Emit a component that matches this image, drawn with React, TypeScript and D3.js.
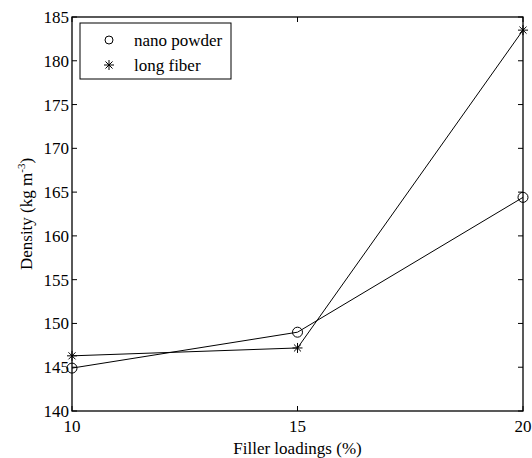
import React from "react";
import * as d3 from "d3";

const loadings = [10, 15, 20];
const nanoPowder = [144.9, 149.0, 164.4];
const longFiber = [146.3, 147.2, 183.5];
const xTicks = [10, 15, 20];
const yTicks = [140, 145, 150, 155, 160, 165, 170, 175, 180, 185];

export default function App() {
  const W = 532, H = 458;
  const m = { l: 72, r: 9, t: 17, b: 47 };
  const x = d3.scaleLinear().domain([10, 20]).range([m.l, W - m.r]);
  const y = d3.scaleLinear().domain([140, 185]).range([H - m.b, m.t]);
  const line = d3.line<number>().x((_, i) => x(loadings[i])).y((d) => y(d));
  const font = "'Liberation Serif', 'Times New Roman', serif";
  const fs = 17;
  const x0 = x(10), x1 = x(20), y0 = y(140), y1 = y(185);
  const star = (cx: number, cy: number, k: string) => {
    const s = 5;
    const d = s * 0.707;
    return (
      <g key={k} stroke="#000" strokeWidth={1}>
        <line x1={cx - s} y1={cy} x2={cx + s} y2={cy} />
        <line x1={cx} y1={cy - s} x2={cx} y2={cy + s} />
        <line x1={cx - d} y1={cy - d} x2={cx + d} y2={cy + d} />
        <line x1={cx - d} y1={cy + d} x2={cx + d} y2={cy - d} />
      </g>
    );
  };
  return (
    <svg width={W} height={H} style={{ position: "absolute", left: 0, top: 0 }} fontFamily={font}>
      <rect x={0} y={0} width={W} height={H} fill="#fff" />
      <rect x={x0} y={y1} width={x1 - x0} height={y0 - y1} fill="none" stroke="#000" strokeWidth={1.3} />
      {xTicks.map((t) => (
        <g key={"xt" + t}>
          <line x1={x(t)} y1={y0} x2={x(t)} y2={y0 - 5} stroke="#000" />
          <line x1={x(t)} y1={y1} x2={x(t)} y2={y1 + 5} stroke="#000" />
          <text x={x(t)} y={y0 + 21} textAnchor="middle" fontSize={fs}>{t}</text>
        </g>
      ))}
      {yTicks.map((t) => (
        <g key={"yt" + t}>
          <line x1={x0} y1={y(t)} x2={x0 + 5} y2={y(t)} stroke="#000" />
          <line x1={x1} y1={y(t)} x2={x1 - 5} y2={y(t)} stroke="#000" />
          <text x={x0 - 3} y={y(t) + 6} textAnchor="end" fontSize={fs}>{t}</text>
        </g>
      ))}
      <text x={(x0 + x1) / 2} y={H - 4} textAnchor="middle" fontSize={fs}>Filler loadings (%)</text>
      <text transform={`translate(32,${(y0 + y1) / 2}) rotate(-90)`} textAnchor="middle" fontSize={fs}>
        Density (kg m<tspan dy={-7} fontSize={11}>-3</tspan><tspan dy={7}>)</tspan>
      </text>
      <path d={line(nanoPowder) || ""} fill="none" stroke="#000" strokeWidth={1} />
      <path d={line(longFiber) || ""} fill="none" stroke="#000" strokeWidth={1} />
      {nanoPowder.map((v, i) => (
        <circle key={"c" + i} cx={x(loadings[i])} cy={y(v)} r={5} fill="none" stroke="#000" strokeWidth={1} />
      ))}
      {longFiber.map((v, i) => star(x(loadings[i]), y(v), "s" + i))}
      <rect x={80} y={23} width={151} height={56} fill="#fff" stroke="#000" strokeWidth={1} />
      <circle cx={109} cy={40} r={4} fill="none" stroke="#000" />
      <text x={134} y={46} fontSize={fs}>nano powder</text>
      {star(109, 65, "ls")}
      <text x={134} y={71} fontSize={fs}>long fiber</text>
    </svg>
  );
}
